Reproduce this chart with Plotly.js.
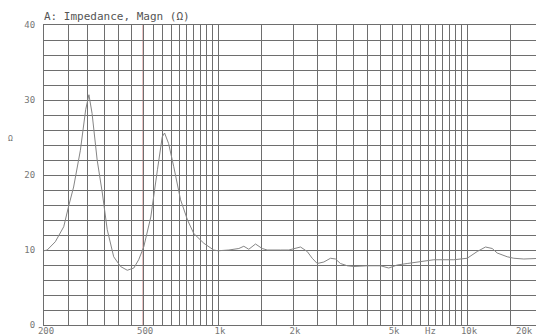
<!DOCTYPE html>
<html>
<head>
<meta charset="utf-8">
<script src="https://cdn.plot.ly/plotly-3.0.1.min.js"></script>
<style>
  html, body { margin: 0; padding: 0; background: #fff; overflow: hidden; width: 536px; height: 336px; }
  #chart { width: 560px; height: 336px; }
</style>
</head>
<body>
<div id="chart"></div>
<script>
// Impedance magnitude sweep (Hz, ohm)
const freqHz = [
  200, 206, 222, 240, 251, 263, 280, 294, 303, 312, 327, 343, 359, 381, 406, 432, 459, 480,
  503, 537, 571, 597, 610, 633, 664, 707, 754, 799, 877, 960, 1000,
  1105, 1212, 1269, 1329, 1414, 1504, 1575, 1782, 1924, 2144, 2281, 2389, 2502, 2660,
  2829, 2962, 3102, 3302, 3508, 3972, 4490, 4849, 5242, 5750, 6502, 7355, 8848,
  10014, 10988, 11864, 12620, 13218, 14496, 15404, 16906, 18542, 20000
];
const impedanceOhm = [
  9.9, 10.0, 11.1, 13.1, 15.8, 18.4, 23.3, 28.7, 30.7, 28.2, 22.0, 17.6, 12.7, 9.1, 7.8, 7.3, 7.6, 8.7,
  10.4, 14.4, 20.7, 25.1, 25.6, 24.2, 21.1, 16.7, 14.0, 12.2, 10.9, 10.0, 9.9,
  10.0, 10.2, 10.5, 10.1, 10.8, 10.2, 10.0, 10.0, 10.0, 10.4, 9.8, 8.9, 8.2, 8.4,
  8.9, 8.8, 8.2, 7.9, 7.8, 7.9, 7.9, 7.6, 8.0, 8.2, 8.4, 8.7, 8.7,
  8.9, 9.8, 10.4, 10.2, 9.6, 9.1, 8.9, 8.8, 8.9, 8.9
];

// Frequency grid: steps of 0.5 within each decade
const gridMultipliers = [1, 1.5, 2, 2.5, 3, 3.5, 4, 4.5, 5, 5.5, 6, 6.5, 7, 7.5, 8, 8.5, 9, 9.5];
const decades = [100, 1000, 10000];
const freqLabels = { 200: '200', 500: '500', 1000: '1k', 2000: '2k', 5000: '5k', 7000: 'Hz', 10000: '10k' };
// the last label sits at the right edge and is anchored inward
const edgeFreq = 20000;
const edgeLabel = '20k';
const markerFreq = 500;

const ohmGridStep = 2;
const ohmLabels = { 0: '0', 10: '10', 20: '20', 30: '30', 40: '40' };

const xGrid = [];
decades.forEach(d => gridMultipliers.forEach(m => {
  const f = Math.round(d * m);
  if (f >= 200 && f <= 20000) xGrid.push(f);
}));
const xText = xGrid.map(f => freqLabels[f] || '');

const yGrid = [];
for (let v = 0; v <= 40; v += ohmGridStep) yGrid.push(v);
const yText = yGrid.map(v => ohmLabels[v] !== undefined ? ohmLabels[v] : '');

const mono = 'DejaVu Sans Mono, Liberation Mono, monospace';
const gridColor = '#6e6e6e';

const trace = {
  x: freqHz,
  y: impedanceOhm,
  type: 'scatter',
  mode: 'lines',
  line: { color: '#858585', width: 1 },
  hoverinfo: 'skip'
};

const layout = {
  width: 560,
  height: 336,
  margin: { l: 44, r: 18, t: 25, b: 11 },
  paper_bgcolor: '#ffffff',
  plot_bgcolor: '#ffffff',
  showlegend: false,
  title: {
    text: 'A: Impedance, Magn (\u03A9)',
    font: { family: mono, size: 11, color: '#555' },
    xref: 'paper', x: 0.0, xanchor: 'left',
    yref: 'container', y: 0.953, yanchor: 'middle'
  },
  xaxis: {
    type: 'log',
    range: [Math.log10(200), Math.log10(20000)],
    tickmode: 'array',
    tickvals: xGrid,
    ticktext: xText,
    ticks: '',
    showgrid: true,
    gridcolor: gridColor,
    gridwidth: 1,
    showline: true,
    linecolor: gridColor,
    linewidth: 1,
    mirror: true,
    zeroline: false,
    tickfont: { family: mono, size: 9, color: '#777' },
    ticklabelstandoff: -3,
    ticklabelshift: 2
  },
  yaxis: {
    range: [0, 40],
    tickmode: 'array',
    tickvals: yGrid,
    ticktext: yText,
    ticks: '',
    showgrid: true,
    gridcolor: gridColor,
    gridwidth: 1,
    showline: true,
    linecolor: gridColor,
    linewidth: 1,
    mirror: true,
    zeroline: false,
    tickfont: { family: mono, size: 9, color: '#777' },
    ticklabelstandoff: 6
  },
  shapes: [{
    type: 'line', xref: 'x', yref: 'paper',
    x0: markerFreq, x1: markerFreq, y0: 0, y1: 1,
    line: { color: '#d07070', width: 1 },
    layer: 'below'
  }],
  annotations: [{
    text: '\u03A9',
    xref: 'paper', yref: 'paper',
    x: -0.068, y: 0.623,
    xanchor: 'center', yanchor: 'middle',
    showarrow: false,
    font: { family: mono, size: 8, color: '#777' }
  }, {
    text: edgeLabel,
    xref: 'x', yref: 'paper',
    x: Math.log10(edgeFreq), y: 0,
    xanchor: 'right', yanchor: 'top',
    xshift: -7, yshift: 1,
    showarrow: false,
    font: { family: mono, size: 9, color: '#777' }
  }]
};

Plotly.newPlot('chart', [trace], layout, { staticPlot: true, displayModeBar: false });
</script>
</body>
</html>
